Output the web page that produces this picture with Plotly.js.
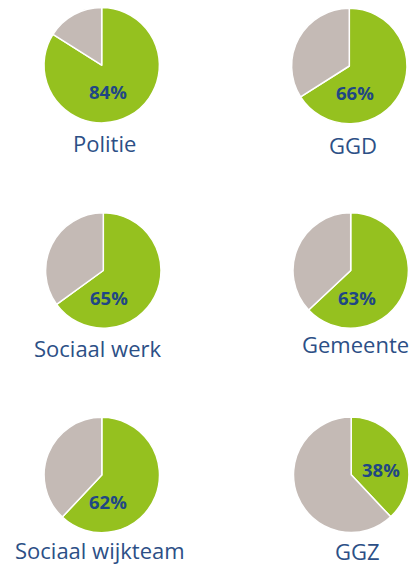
<!DOCTYPE html>
<html>
<head>
<meta charset="utf-8">
<script src="https://cdn.plot.ly/plotly-3.0.1.min.js"></script>
<style>html,body{margin:0;padding:0;background:#fff;}#chart{width:413px;height:565px;}</style>
</head>
<body>
<div id="chart"></div>
<script>
// Data
var organisations = ["Politie", "GGD", "Sociaal werk", "Gemeente", "Sociaal wijkteam", "GGZ"];
var percentYes = [84, 66, 65, 63, 62, 38];
var percentRest = [16, 34, 35, 37, 38, 62];

// Layout (pixels)
var W = 413, H = 565, R = 57.7;
var centers = [[101.7, 65.2], [349.3, 66], [103.3, 270.5], [350.7, 270.5], [101.8, 475], [351.2, 474.8]];
var labelPos = [[104.5, 142.5], [352.5, 145], [98, 348], [355.3, 343.5], [100, 550], [357, 551]];

var GREEN = "#95c11f", GREY = "#c4bab5", PCT = "#1f4784", LBL = "#2c4f86";

var traces = [], annotations = [];
organisations.forEach(function (name, i) {
  var c = centers[i];
  traces.push({
    type: "pie",
    values: [percentYes[i], percentRest[i]],
    labels: ["ja", "nee"],
    sort: false,
    direction: "clockwise",
    rotation: 0,
    textinfo: "none",
    hoverinfo: "skip",
    showlegend: false,
    marker: { colors: [GREEN, GREY], line: { color: "#ffffff", width: 1.5 } },
    domain: {
      x: [(c[0] - R) / W, (c[0] + R) / W],
      y: [1 - (c[1] + R) / H, 1 - (c[1] - R) / H]
    }
  });
  var big = percentYes[i] >= 50;
  var lx = big ? c[0] + 6 : c[0] + 30;
  var ly = big ? c[1] + 26.5 : c[1] - 5;
  annotations.push({
    text: "<b>" + percentYes[i] + "%</b>",
    x: lx / W, y: 1 - ly / H, xref: "paper", yref: "paper",
    xanchor: "center", yanchor: "middle", showarrow: false,
    font: { family: "Open Sans, sans-serif", size: 18.5, color: PCT }
  });
  annotations.push({
    text: name,
    x: labelPos[i][0] / W, y: 1 - labelPos[i][1] / H, xref: "paper", yref: "paper",
    xanchor: "center", yanchor: "middle", showarrow: false,
    font: { family: "Open Sans, sans-serif", size: 22, color: LBL }
  });
});

Plotly.newPlot("chart", traces, {
  width: W, height: H,
  margin: { l: 0, r: 0, t: 0, b: 0 },
  paper_bgcolor: "#ffffff",
  annotations: annotations
}, { displayModeBar: false, staticPlot: true });
</script>
</body>
</html>
